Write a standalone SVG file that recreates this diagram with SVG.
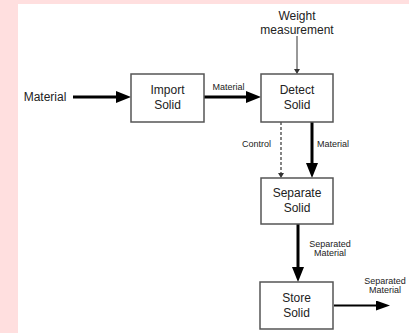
<svg xmlns="http://www.w3.org/2000/svg" width="409" height="333" viewBox="0 0 409 333">
  <style>
    .box { fill: #ffffff; stroke: #555555; stroke-width: 1.5; }
    .t { font-family: "Liberation Sans", Arial, sans-serif; font-size: 12px; fill: #222222; text-anchor: middle; }
    .s { font-family: "Liberation Sans", Arial, sans-serif; font-size: 9px; fill: #222222; text-anchor: middle; }
    .thick { stroke: #000000; stroke-width: 3; fill: none; }
    .med { stroke: #000000; stroke-width: 2; fill: none; }
    .thin { stroke: #333333; stroke-width: 1; fill: none; }
    .dash { stroke: #333333; stroke-width: 1.2; fill: none; stroke-dasharray: 3 2; }
  </style>
  <defs>
    <marker id="big" markerUnits="userSpaceOnUse" markerWidth="16" markerHeight="12" refX="0" refY="6" orient="auto">
      <path d="M0,0 L15,6 L0,12 z" fill="#000"/>
    </marker>
    <marker id="mid" markerUnits="userSpaceOnUse" markerWidth="15" markerHeight="10" refX="0" refY="5" orient="auto">
      <path d="M0,0 L14,5 L0,10 z" fill="#000"/>
    </marker>
    <marker id="small" markerUnits="userSpaceOnUse" markerWidth="6" markerHeight="6" refX="0" refY="3" orient="auto">
      <path d="M0,0 L5,3 L0,6 z" fill="#333"/>
    </marker>
  </defs>
  <rect x="0" y="0" width="409" height="333" fill="#ffdfdf"/>
  <rect x="18" y="4" width="391" height="329" fill="#ffffff"/>

  <g id="connectors">
    <line class="thick" x1="73" y1="97" x2="116" y2="97" marker-end="url(#big)"/>
    <line class="thick" x1="204" y1="97" x2="246" y2="97" marker-end="url(#big)"/>
    <line class="thin" x1="297" y1="36" x2="297" y2="69" marker-end="url(#small)"/>
    <line class="dash" x1="281" y1="122" x2="281" y2="173" marker-end="url(#small)"/>
    <line class="thick" x1="312" y1="122" x2="312" y2="163" marker-end="url(#big)"/>
    <line class="thick" x1="298" y1="224" x2="298" y2="267" marker-end="url(#big)"/>
    <line class="med" x1="334" y1="305.5" x2="376" y2="305.5" marker-end="url(#mid)"/>
    <text class="s" x="228.5" y="90">Material</text>
    <text class="s" x="271" y="147" style="text-anchor:end">Control</text>
    <text class="s" x="317" y="147" style="text-anchor:start">Material</text>
    <text class="s" x="330" y="247">Separated</text>
    <text class="s" x="330" y="256">Material</text>
    <text class="s" x="385" y="284">Separated</text>
    <text class="s" x="385" y="293">Material</text>
  </g>

  <g id="input-material">
    <text class="t" x="45" y="101">Material</text>
  </g>
  <g id="weight-measurement">
    <text class="t" x="297" y="20">Weight</text>
    <text class="t" x="297" y="33.5">measurement</text>
  </g>
  <g id="import-solid">
    <rect class="box" x="131" y="74" width="73" height="48"/>
    <text class="t" x="167.5" y="94">Import</text>
    <text class="t" x="167.5" y="108.5">Solid</text>
  </g>
  <g id="detect-solid">
    <rect class="box" x="261" y="74" width="72" height="48"/>
    <text class="t" x="297" y="94">Detect</text>
    <text class="t" x="297" y="108.5">Solid</text>
  </g>
  <g id="separate-solid">
    <rect class="box" x="261" y="178" width="72" height="46"/>
    <text class="t" x="297" y="197">Separate</text>
    <text class="t" x="297" y="211.5">Solid</text>
  </g>
  <g id="store-solid">
    <rect class="box" x="260" y="282" width="73" height="47"/>
    <text class="t" x="296.5" y="302">Store</text>
    <text class="t" x="296.5" y="316.5">Solid</text>
  </g>
</svg>
